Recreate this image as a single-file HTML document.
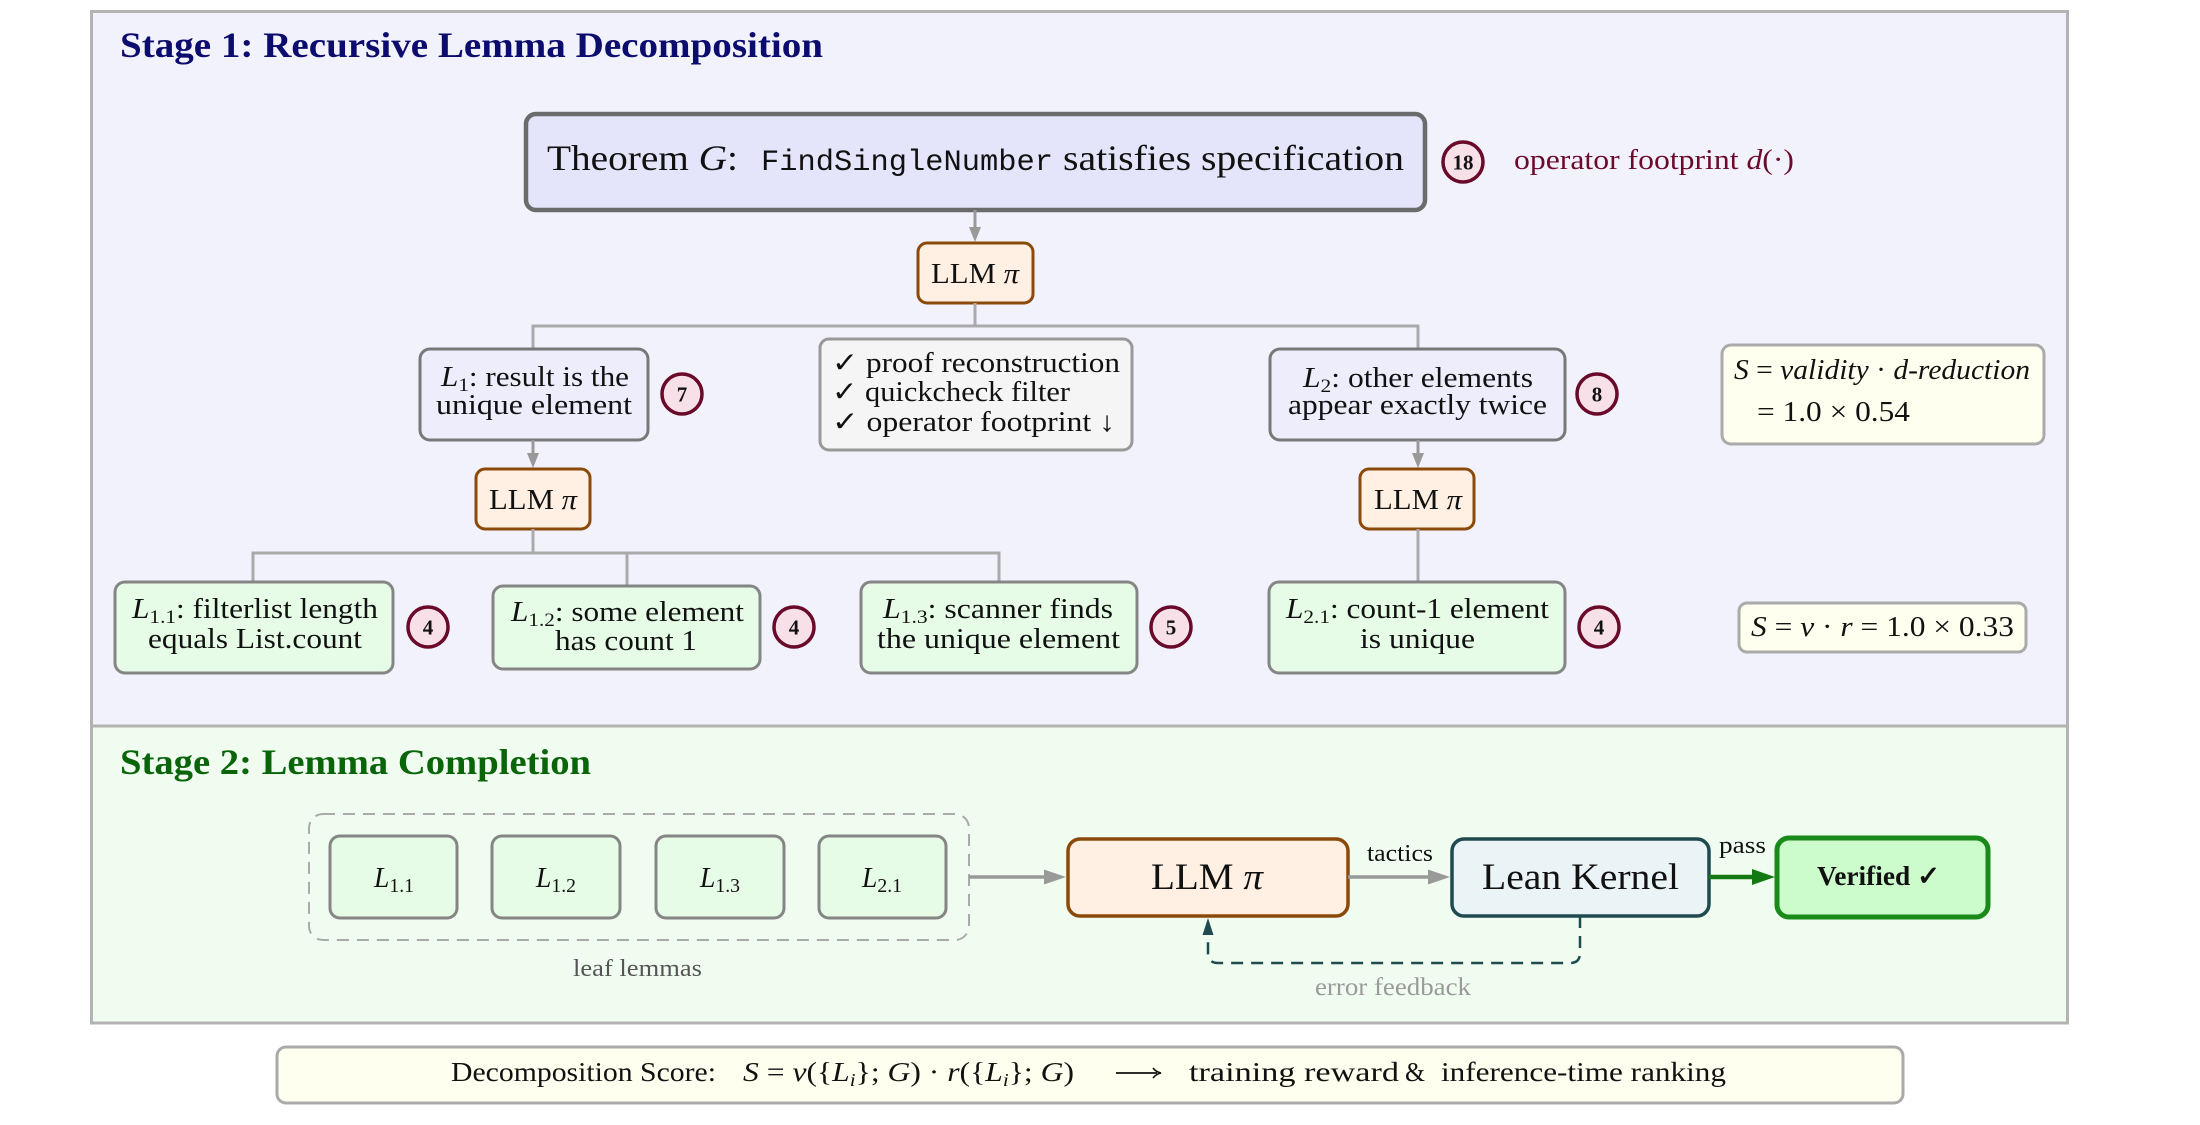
<!DOCTYPE html>
<html>
<head>
<meta charset="utf-8">
<style>
  html, body { margin: 0; padding: 0; background: #ffffff; }
  svg { display: block; }
  text { font-family: "Liberation Serif", "DejaVu Serif", serif; }
  .mono { font-family: "Liberation Mono", "DejaVu Sans Mono", monospace; }
</style>
</head>
<body>
<svg xmlns="http://www.w3.org/2000/svg" width="2200" height="1125" viewBox="0 0 2200 1125">
  <!-- Stage backgrounds -->
  <rect x="91.5" y="11.5" width="1976" height="714.5" fill="#f2f2fd" stroke="#b3b3b3" stroke-width="3"/>
  <rect x="91.5" y="726" width="1976" height="297" fill="#effcef" stroke="#b3b3b3" stroke-width="3"/>

  <!-- Titles -->
  <text x="120" y="57" font-size="36" font-weight="bold" fill="#0c0c6e" textLength="703" lengthAdjust="spacingAndGlyphs">Stage 1: Recursive Lemma Decomposition</text>
  <text x="120" y="774" font-size="36" font-weight="bold" fill="#0a650a" textLength="471" lengthAdjust="spacingAndGlyphs">Stage 2: Lemma Completion</text>

  <!-- Theorem box -->
  <rect x="526" y="114" width="899" height="96" rx="10" fill="#e4e4fb" stroke="#6b6b6b" stroke-width="4.5"/>
  <text x="547" y="170" font-size="36" fill="#111" textLength="191" lengthAdjust="spacingAndGlyphs">Theorem <tspan font-style="italic">G</tspan>:</text>
  <text class="mono" x="761" y="170" font-size="30" fill="#111" textLength="292" lengthAdjust="spacingAndGlyphs">FindSingleNumber</text>
  <text x="1063" y="170" font-size="36" fill="#111" textLength="341" lengthAdjust="spacingAndGlyphs">satisfies specification</text>

  <!-- Badge 18 + operator footprint -->
  <circle cx="1463" cy="162" r="20" fill="#f7e0e8" stroke="#6a0a2a" stroke-width="3.5"/>
  <text x="1463" y="169.5" font-size="21" font-weight="bold" text-anchor="middle" fill="#111">18</text>
  <text x="1514" y="169" font-size="28" fill="#6b0b2c" textLength="280" lengthAdjust="spacingAndGlyphs">operator footprint <tspan font-style="italic">d</tspan>(·)</text>

  <!-- Theorem -> LLM1 arrow -->
  <line x1="975" y1="210" x2="975" y2="229" stroke="#999" stroke-width="3"/>
  <polygon points="969,227 981,227 975,242" fill="#999"/>

  <!-- LLM1 -->
  <rect x="918" y="243" width="115" height="60" rx="9" fill="#fff0e3" stroke="#8b4a0a" stroke-width="3"/>
  <text x="931" y="283" font-size="29" fill="#111" textLength="88" lengthAdjust="spacingAndGlyphs">LLM <tspan font-style="italic">π</tspan></text>

  <!-- connectors from LLM1 -->
  <polyline points="975,303 975,326" fill="none" stroke="#aaa" stroke-width="3"/>
  <polyline points="533,349 533,326 1418,326 1418,349" fill="none" stroke="#aaa" stroke-width="3"/>

  <!-- L1 box -->
  <rect x="420" y="349" width="228" height="91" rx="10" fill="#ededfc" stroke="#787878" stroke-width="3"/>
  <text x="441" y="386" font-size="28" fill="#111" textLength="188" lengthAdjust="spacingAndGlyphs"><tspan font-style="italic">L</tspan><tspan font-size="19" dy="5">1</tspan><tspan dy="-5">: result is the</tspan></text>
  <text x="436" y="414" font-size="28" fill="#111" textLength="196" lengthAdjust="spacingAndGlyphs">unique element</text>
  <circle cx="682" cy="394" r="20" fill="#f7e0e8" stroke="#6a0a2a" stroke-width="3.5"/>
  <text x="682" y="401.5" font-size="21" font-weight="bold" text-anchor="middle" fill="#111">7</text>

  <!-- Checklist box -->
  <rect x="820" y="339" width="312" height="111" rx="9" fill="#f5f5f5" stroke="#999" stroke-width="3"/>
  <text x="832" y="372" font-size="28" fill="#111" textLength="288" lengthAdjust="spacingAndGlyphs">✓ proof reconstruction</text>
  <text x="832" y="401" font-size="28" fill="#111" textLength="238" lengthAdjust="spacingAndGlyphs">✓ quickcheck filter</text>
  <text x="832" y="431" font-size="28" fill="#111" textLength="283" lengthAdjust="spacingAndGlyphs">✓ operator footprint ↓</text>

  <!-- L2 box -->
  <rect x="1270" y="349" width="295" height="91" rx="10" fill="#ededfc" stroke="#787878" stroke-width="3"/>
  <text x="1303" y="387" font-size="28" fill="#111" textLength="230" lengthAdjust="spacingAndGlyphs"><tspan font-style="italic">L</tspan><tspan font-size="19" dy="5">2</tspan><tspan dy="-5">: other elements</tspan></text>
  <text x="1288" y="414" font-size="28" fill="#111" textLength="259" lengthAdjust="spacingAndGlyphs">appear exactly twice</text>
  <circle cx="1597" cy="394" r="20" fill="#f7e0e8" stroke="#6a0a2a" stroke-width="3.5"/>
  <text x="1597" y="401.5" font-size="21" font-weight="bold" text-anchor="middle" fill="#111">8</text>

  <!-- Score box 1 -->
  <rect x="1722" y="345" width="322" height="99" rx="9" fill="#fffff0" stroke="#aaa" stroke-width="3"/>
  <text x="1734" y="379" font-size="28" fill="#111" textLength="296" lengthAdjust="spacingAndGlyphs"><tspan font-style="italic">S</tspan> = <tspan font-style="italic">validity</tspan> · <tspan font-style="italic">d-reduction</tspan></text>
  <text x="1757" y="421" font-size="28" fill="#111" textLength="153" lengthAdjust="spacingAndGlyphs">= 1.0 × 0.54</text>

  <!-- L1 -> LLM2 -->
  <line x1="533" y1="440" x2="533" y2="455" stroke="#999" stroke-width="3"/>
  <polygon points="527,453 539,453 533,468" fill="#999"/>
  <rect x="476" y="469" width="114" height="60" rx="9" fill="#fff0e3" stroke="#8b4a0a" stroke-width="3"/>
  <text x="489" y="509" font-size="29" fill="#111" textLength="88" lengthAdjust="spacingAndGlyphs">LLM <tspan font-style="italic">π</tspan></text>
  <polyline points="533,529 533,553" fill="none" stroke="#aaa" stroke-width="3"/>
  <polyline points="253,582 253,553 999,553 999,582" fill="none" stroke="#aaa" stroke-width="3"/>
  <line x1="627" y1="553" x2="627" y2="586" stroke="#aaa" stroke-width="3"/>

  <!-- L2 -> LLM3 -->
  <line x1="1418" y1="440" x2="1418" y2="455" stroke="#999" stroke-width="3"/>
  <polygon points="1412,453 1424,453 1418,468" fill="#999"/>
  <rect x="1360" y="469" width="114" height="60" rx="9" fill="#fff0e3" stroke="#8b4a0a" stroke-width="3"/>
  <text x="1374" y="509" font-size="29" fill="#111" textLength="88" lengthAdjust="spacingAndGlyphs">LLM <tspan font-style="italic">π</tspan></text>
  <line x1="1418" y1="529" x2="1418" y2="582" stroke="#aaa" stroke-width="3"/>

  <!-- L1.1 -->
  <rect x="115" y="582" width="278" height="91" rx="10" fill="#e6fce6" stroke="#858585" stroke-width="3"/>
  <text x="132" y="618" font-size="28" fill="#111" textLength="246" lengthAdjust="spacingAndGlyphs"><tspan font-style="italic">L</tspan><tspan font-size="19" dy="5">1.1</tspan><tspan dy="-5">: filterlist length</tspan></text>
  <text x="148" y="648" font-size="28" fill="#111" textLength="214" lengthAdjust="spacingAndGlyphs">equals List.count</text>
  <circle cx="428" cy="627" r="20" fill="#f7e0e8" stroke="#6a0a2a" stroke-width="3.5"/>
  <text x="428" y="634.5" font-size="21" font-weight="bold" text-anchor="middle" fill="#111">4</text>

  <!-- L1.2 -->
  <rect x="493" y="586" width="267" height="83" rx="10" fill="#e6fce6" stroke="#858585" stroke-width="3"/>
  <text x="511" y="621" font-size="28" fill="#111" textLength="233" lengthAdjust="spacingAndGlyphs"><tspan font-style="italic">L</tspan><tspan font-size="19" dy="5">1.2</tspan><tspan dy="-5">: some element</tspan></text>
  <text x="555" y="650" font-size="28" fill="#111" textLength="142" lengthAdjust="spacingAndGlyphs">has count 1</text>
  <circle cx="794" cy="627" r="20" fill="#f7e0e8" stroke="#6a0a2a" stroke-width="3.5"/>
  <text x="794" y="634.5" font-size="21" font-weight="bold" text-anchor="middle" fill="#111">4</text>

  <!-- L1.3 -->
  <rect x="861" y="582" width="276" height="91" rx="10" fill="#e6fce6" stroke="#858585" stroke-width="3"/>
  <text x="883" y="618" font-size="28" fill="#111" textLength="230" lengthAdjust="spacingAndGlyphs"><tspan font-style="italic">L</tspan><tspan font-size="19" dy="5">1.3</tspan><tspan dy="-5">: scanner finds</tspan></text>
  <text x="877" y="648" font-size="28" fill="#111" textLength="243" lengthAdjust="spacingAndGlyphs">the unique element</text>
  <circle cx="1171" cy="627" r="20" fill="#f7e0e8" stroke="#6a0a2a" stroke-width="3.5"/>
  <text x="1171" y="634.5" font-size="21" font-weight="bold" text-anchor="middle" fill="#111">5</text>

  <!-- L2.1 -->
  <rect x="1269" y="582" width="296" height="91" rx="10" fill="#e6fce6" stroke="#858585" stroke-width="3"/>
  <text x="1286" y="618" font-size="28" fill="#111" textLength="263" lengthAdjust="spacingAndGlyphs"><tspan font-style="italic">L</tspan><tspan font-size="19" dy="5">2.1</tspan><tspan dy="-5">: count-1 element</tspan></text>
  <text x="1360" y="648" font-size="28" fill="#111" textLength="115" lengthAdjust="spacingAndGlyphs">is unique</text>
  <circle cx="1599" cy="627" r="20" fill="#f7e0e8" stroke="#6a0a2a" stroke-width="3.5"/>
  <text x="1599" y="634.5" font-size="21" font-weight="bold" text-anchor="middle" fill="#111">4</text>

  <!-- Score box 2 -->
  <rect x="1739" y="603" width="287" height="49" rx="8" fill="#fffff0" stroke="#aaa" stroke-width="3"/>
  <text x="1751" y="636" font-size="28" fill="#111" textLength="263" lengthAdjust="spacingAndGlyphs"><tspan font-style="italic">S</tspan> = <tspan font-style="italic">v</tspan> · <tspan font-style="italic">r</tspan> = 1.0 × 0.33</text>

  <!-- ===== Stage 2 ===== -->
  <rect x="309" y="814" width="660" height="126" rx="14" fill="none" stroke="#aaa" stroke-width="2" stroke-dasharray="12 8"/>

  <rect x="330" y="836" width="127" height="82" rx="10" fill="#e6fce6" stroke="#858585" stroke-width="3"/>
  <text x="374" y="887" font-size="28" fill="#111" textLength="40" lengthAdjust="spacingAndGlyphs"><tspan font-style="italic">L</tspan><tspan font-size="20" dy="5">1.1</tspan></text>
  <rect x="492" y="836" width="128" height="82" rx="10" fill="#e6fce6" stroke="#858585" stroke-width="3"/>
  <text x="536" y="887" font-size="28" fill="#111" textLength="40" lengthAdjust="spacingAndGlyphs"><tspan font-style="italic">L</tspan><tspan font-size="20" dy="5">1.2</tspan></text>
  <rect x="656" y="836" width="128" height="82" rx="10" fill="#e6fce6" stroke="#858585" stroke-width="3"/>
  <text x="700" y="887" font-size="28" fill="#111" textLength="40" lengthAdjust="spacingAndGlyphs"><tspan font-style="italic">L</tspan><tspan font-size="20" dy="5">1.3</tspan></text>
  <rect x="819" y="836" width="127" height="82" rx="10" fill="#e6fce6" stroke="#858585" stroke-width="3"/>
  <text x="862" y="887" font-size="28" fill="#111" textLength="40" lengthAdjust="spacingAndGlyphs"><tspan font-style="italic">L</tspan><tspan font-size="20" dy="5">2.1</tspan></text>

  <text x="573" y="976" font-size="24" fill="#555" textLength="129" lengthAdjust="spacingAndGlyphs">leaf lemmas</text>

  <!-- arrow to LLM -->
  <line x1="969" y1="877" x2="1046" y2="877" stroke="#999" stroke-width="3.5"/>
  <polygon points="1044,869.5 1066,877 1044,884.5" fill="#999"/>

  <!-- LLM big -->
  <rect x="1068" y="839" width="280" height="77" rx="12" fill="#fff0e3" stroke="#8b4a0a" stroke-width="3.5"/>
  <text x="1151" y="889" font-size="37" fill="#111" textLength="112" lengthAdjust="spacingAndGlyphs">LLM <tspan font-style="italic">π</tspan></text>

  <!-- tactics arrow -->
  <line x1="1348" y1="877" x2="1430" y2="877" stroke="#999" stroke-width="3.5"/>
  <polygon points="1428,869.5 1450,877 1428,884.5" fill="#999"/>
  <text x="1367" y="861" font-size="24" fill="#111" textLength="66" lengthAdjust="spacingAndGlyphs">tactics</text>

  <!-- Lean Kernel -->
  <rect x="1452" y="839" width="257" height="77" rx="12" fill="#eaf3f5" stroke="#1f4a4f" stroke-width="3.5"/>
  <text x="1482" y="889" font-size="37" fill="#111" textLength="197" lengthAdjust="spacingAndGlyphs">Lean Kernel</text>

  <!-- pass arrow -->
  <line x1="1709" y1="877" x2="1754" y2="877" stroke="#137a13" stroke-width="4.5"/>
  <polygon points="1752,869 1775,877 1752,885" fill="#137a13"/>
  <text x="1719" y="853" font-size="24" fill="#111" textLength="47" lengthAdjust="spacingAndGlyphs">pass</text>

  <!-- Verified -->
  <rect x="1777" y="838" width="211" height="79" rx="12" fill="#ccfccc" stroke="#1a8a1a" stroke-width="5"/>
  <text x="1817" y="885" font-size="27" font-weight="bold" fill="#111" textLength="123" lengthAdjust="spacingAndGlyphs">Verified ✓</text>

  <!-- error feedback -->
  <path d="M1580,916 V953 Q1580,963 1570,963 H1218 Q1208,963 1208,953 V934" fill="none" stroke="#1f4a4f" stroke-width="2.5" stroke-dasharray="12 8"/>
  <polygon points="1202.5,935 1213.5,935 1208,918" fill="#1f4a4f"/>
  <text x="1315" y="995" font-size="25" fill="#9a9a9a" textLength="156" lengthAdjust="spacingAndGlyphs">error feedback</text>

  <!-- Bottom score box -->
  <rect x="277" y="1047" width="1626" height="56" rx="9" fill="#fffff0" stroke="#aaa" stroke-width="3"/>
  <text x="451" y="1081" font-size="27" fill="#111" textLength="265" lengthAdjust="spacingAndGlyphs">Decomposition Score:</text>
  <text x="743" y="1081" font-size="27" fill="#111" textLength="331" lengthAdjust="spacingAndGlyphs"><tspan font-style="italic">S</tspan> = <tspan font-style="italic">v</tspan>({<tspan font-style="italic">L</tspan><tspan font-size="18" font-style="italic" dy="5">i</tspan><tspan dy="-5">}; </tspan><tspan font-style="italic">G</tspan>) · <tspan font-style="italic">r</tspan>({<tspan font-style="italic">L</tspan><tspan font-size="18" font-style="italic" dy="5">i</tspan><tspan dy="-5">}; </tspan><tspan font-style="italic">G</tspan>)</text>
  <line x1="1116" y1="1073" x2="1157" y2="1073" stroke="#111" stroke-width="1.8"/>
  <path d="M1153,1068 Q1156,1072 1161,1073 Q1156,1074 1153,1078" fill="none" stroke="#111" stroke-width="1.6"/>
  <text x="1189" y="1081" font-size="27" fill="#111" textLength="210" lengthAdjust="spacingAndGlyphs">training reward</text>
  <text x="1405" y="1081" font-size="27" fill="#111" textLength="20" lengthAdjust="spacingAndGlyphs">&amp;</text>
  <text x="1441" y="1081" font-size="27" fill="#111" textLength="285" lengthAdjust="spacingAndGlyphs">inference-time ranking</text>
</svg>
</body>
</html>
